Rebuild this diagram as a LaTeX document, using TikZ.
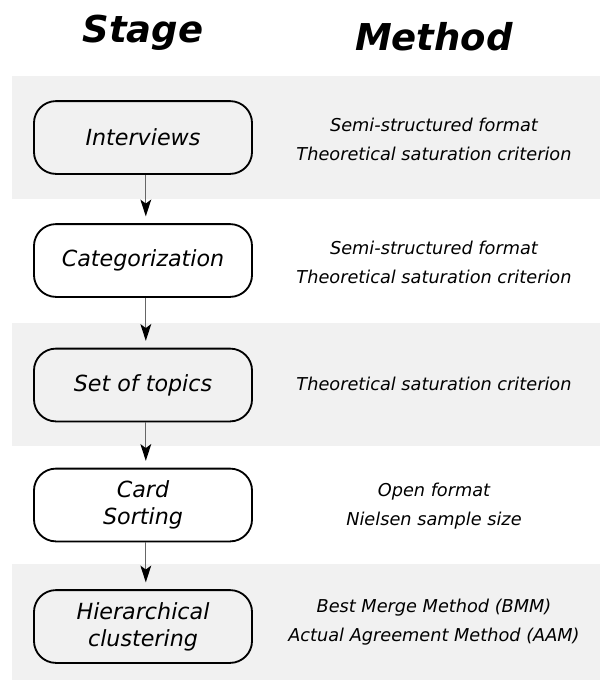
\documentclass[tikz,border=0pt]{standalone}
\usepackage{fontspec}
\setmainfont{DejaVu Sans}
\usetikzlibrary{arrows.meta}

\tikzset{
  stagebox/.style={draw, line width=1.3pt, rounded corners=0.55cm,
    minimum width=5.45cm, minimum height=1.82cm, align=center,
    font=\itshape\fontsize{15.8}{19.2}\selectfont},
  methodtxt/.style={align=center, font=\itshape\fontsize{12.6}{20.5}\selectfont},
  heading/.style={font=\bfseries\itshape\fontsize{26.3}{30}\selectfont},
  band/.style={fill=black!5.5, draw=none},
  flow/.style={draw=black!60, line width=0.9pt, shorten >=0.17cm,
    -{Stealth[length=0.42cm, width=0.27cm, inset=0.1cm, black]}}
}

\begin{document}
\begin{tikzpicture}[x=0.025cm, y=-0.025cm]
\useasboundingbox (0,0) rectangle (600,680);
%% shaded rows
\fill[band] (12,76) rectangle (600,199);
\fill[band] (12,323) rectangle (600,446);
\fill[band] (12,564) rectangle (600,680);

%% headings
\node[heading] (stage) at (143,33) {Stage};
\node[heading] (method) at (434,37) {Method};

%% nodes
\node[stagebox] (interv) at (143,137.5) {Interviews};
\node[stagebox] (categ) at (143,260.5) {Categorization};
\node[stagebox] (topics) at (143,385) {Set of topics};
\node[stagebox] (cards) at (143,505) {Card\\Sorting};
\node[stagebox] (hclust) at (143,626.5) {Hierarchical\\clustering};

\node[methodtxt] (minterv) at (434,139) {Semi-structured format\\Theoretical saturation criterion};
\node[methodtxt] (mcateg) at (434,262) {Semi-structured format\\Theoretical saturation criterion};
\node[methodtxt] (mtopics) at (434,384) {Theoretical saturation criterion};
\node[methodtxt] (mcards) at (434,506) {Open format\\Nielsen sample size};
\node[methodtxt] (mhclust) at (434,622) {Best Merge Method (BMM)\\Actual Agreement Method (AAM)};

%%% edges
\draw[flow] ([xshift=2pt]interv.south) -- ([xshift=2pt]categ.north);
\draw[flow] ([xshift=2pt]categ.south) -- ([xshift=2pt]topics.north);
\draw[flow] ([xshift=2pt]topics.south) -- ([xshift=2pt]cards.north);
\draw[flow] ([xshift=2pt]cards.south) -- ([xshift=2pt]hclust.north);
\end{tikzpicture}
\end{document}
